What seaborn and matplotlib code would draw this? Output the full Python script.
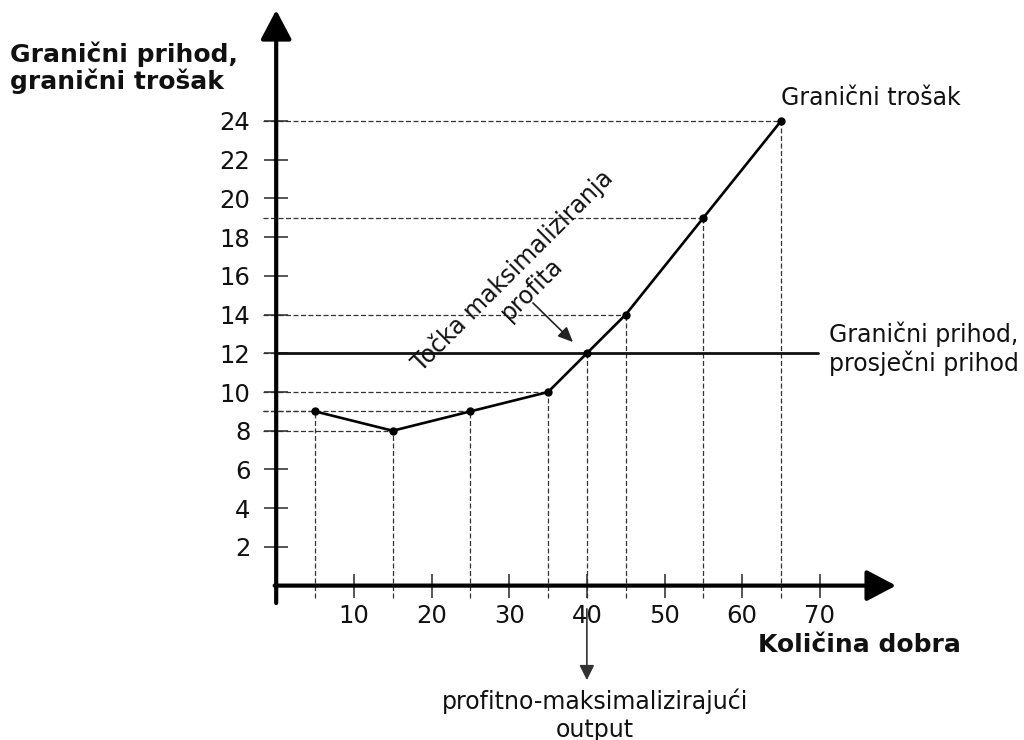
import matplotlib
matplotlib.use("Agg")
import matplotlib.pyplot as plt
import seaborn as sns
import pandas as pd

# marginal cost curve (quantity -> cost)
kolicina = [5, 15, 25, 35, 40, 45, 55, 65]
granicni_trosak = [9, 8, 9, 10, 12, 14, 19, 24]
# marginal revenue = average revenue (flat)
granicni_prihod = 12
optimum_q = 40

x_ticks = [10, 20, 30, 40, 50, 60, 70]
y_ticks = [2, 4, 6, 8, 10, 12, 14, 16, 18, 20, 22, 24]

sns.set_theme(style="white")
plt.rcParams['font.family'] = ['DejaVu Sans']

df = pd.DataFrame({'q': kolicina, 'mc': granicni_trosak})

fig = plt.figure(figsize=(10.24, 7.4), dpi=100)
ax = fig.add_axes([0, 0, 1, 1])
ax.set_xlim(-35.56, 96.28)
ax.set_ylim(-7.975, 30.25)

# spines at zero, hidden (axes drawn as arrows below)
for side in ['top', 'right']:
    ax.spines[side].set_visible(False)
ax.spines['left'].set_position(('data', 0))
ax.spines['bottom'].set_position(('data', 0))
ax.spines['left'].set_color('none')
ax.spines['bottom'].set_color('none')

ax.set_xticks(x_ticks)
ax.set_yticks(y_ticks)
ax.tick_params(axis='both', bottom=True, left=True, direction='inout', length=17,
               width=1.4, color='#555555', labelsize=17.5, labelcolor='#111111')
ax.tick_params(axis='y', pad=10)
ax.tick_params(axis='x', pad=5)

# guide lines
ax.hlines(granicni_trosak, -1.7, kolicina, colors='#333333', linestyles=(0, (4, 2)), lw=0.9)
ax.vlines(kolicina, -0.64, granicni_trosak, colors='#333333', linestyles=(0, (4, 2)), lw=0.9)

# marginal revenue line
ax.plot([0, 69.8], [granicni_prihod, granicni_prihod], color='#111111', lw=2.0)

# marginal cost curve
sns.lineplot(data=df, x='q', y='mc', ax=ax, color='black', lw=1.9,
             marker='o', markersize=6, markeredgewidth=0, sort=False)
ax.set_xlabel('')
ax.set_ylabel('')

# axes with arrow heads
arrow_kw = dict(arrowstyle='-|>,head_length=18,head_width=9.5', lw=3, color='black',
                mutation_scale=1, shrinkA=0, shrinkB=0)
ax.annotate('', xy=(0, 29.73), xytext=(0, -0.9), arrowprops=arrow_kw)
ax.annotate('', xy=(79.8, 0), xytext=(-0.2, 0), arrowprops=arrow_kw)

# axis titles
ax.text(-34.3, 26.75, 'Granični prihod,\ngranični trošak', fontsize=18, fontweight='bold',
        ha='left', va='center', linespacing=1.05, color='#111111')
ax.text(62.0, -3.07, 'Količina dobra', fontsize=18, fontweight='bold',
        ha='left', va='center', color='#111111')

# curve labels
ax.text(65.0, 25.19, 'Granični trošak', fontsize=17, ha='left', va='center', color='#111111')
ax.text(71.2, 12.25, 'Granični prihod,\nprosječni prihod', fontsize=17, ha='left',
        va='center', linespacing=1.15, color='#111111')

# profit maximising point
ax.text(31.65, 15.79, 'Točka maksimaliziranja\nprofita', fontsize=17, rotation=45,
        rotation_mode='anchor', ha='center', va='center', multialignment='center',
        linespacing=1.1, color='#111111')
ax.annotate('', xy=(38.21, 12.58), xytext=(33.06, 14.6),
            arrowprops=dict(arrowstyle='-|>,head_length=9,head_width=4', lw=1.2,
                            color='#222222', mutation_scale=1, shrinkA=0, shrinkB=0))

# profit maximising output
ax.annotate('', xy=(optimum_q, -4.88), xytext=(optimum_q, -1.2),
            arrowprops=dict(arrowstyle='-|>,head_length=9,head_width=4.5', lw=1.2,
                            color='#333333', mutation_scale=1, shrinkA=0, shrinkB=0))
ax.text(optimum_q + 1.0, -6.7, 'profitno-maksimalizirajući\noutput', fontsize=17,
        ha='center', va='center', linespacing=1.2, color='#111111')

fig.savefig('out.png', dpi=100)
